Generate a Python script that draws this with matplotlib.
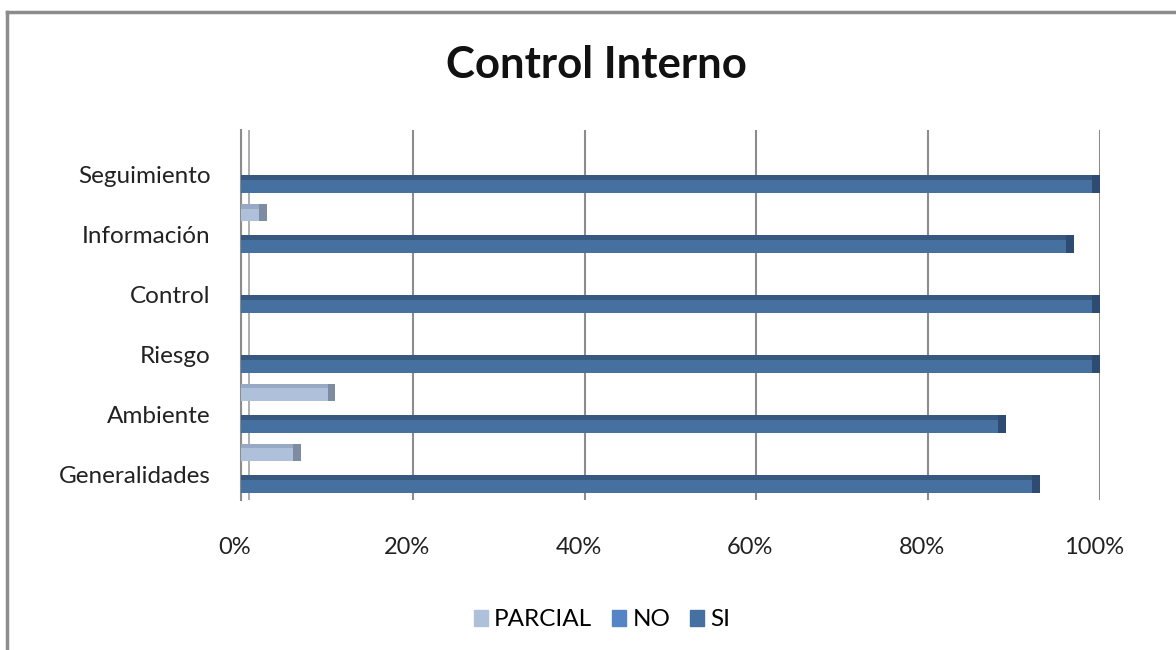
import numpy as np
import matplotlib
matplotlib.use("Agg")
import matplotlib.pyplot as plt
import matplotlib.transforms as mtransforms
from matplotlib.lines import Line2D
from matplotlib.patches import Patch

plt.rcParams['font.family'] = ['Lato', 'DejaVu Sans']

# data (percent)
categories = ['Generalidades', 'Ambiente', 'Riesgo', 'Control', 'Información', 'Seguimiento']
parcial = [7, 11, 0, 0, 3, 0]
no = [0, 0, 0, 0, 0, 0]
si = [93, 89, 100, 100, 97, 100]
xticks = [0, 20, 40, 60, 80, 100]

c_parcial = '#AFC0DA'
c_no = '#5585C5'
c_si = '#46709F'

fig = plt.figure(figsize=(11.76, 6.5), dpi=100)
ax = fig.add_axes([241/1176, 1 - 500/650, (1100-241)/1176, (500-130)/650])

y = np.arange(len(categories))
h = 0.31
cap = 0.9

# main bars
ax.barh(y - 0.15, si, height=h, color=c_si, zorder=3)
ax.barh(y + 0.11, no, height=h, color=c_no, zorder=3)
ax.barh(y + 0.37, parcial, height=0.28, color=c_parcial, zorder=3)

# darker top faces and end caps for a bit of 3D look
ax.barh(y - 0.15 + h/2 - 0.045, si, height=0.09, color='#37597F', zorder=4)
ax.barh(y - 0.15, [cap if v > 0 else 0 for v in si], left=[v - cap for v in si],
        height=h, color='#2E4C72', zorder=5)
ax.barh(y + 0.37 + 0.14 - 0.035, parcial, height=0.07, color='#97A9C4', zorder=4)
ax.barh(y + 0.37, [cap if v > 0 else 0 for v in parcial], left=[v - cap for v in parcial],
        height=0.28, color='#7D8CA3', zorder=5)

ax.set_xlim(0, 100)
ax.set_ylim(-0.42, 5.75)
ax.set_yticks(y)
ax.set_yticklabels(categories, fontsize=17.5, color='#222222')
ax.set_xticks(xticks)
ax.set_xticklabels([f'{v}%' for v in xticks], fontsize=17, color='#222222')
ax.tick_params(length=0)
ax.tick_params(axis='y', pad=22)
ax.tick_params(axis='x', pad=27)

# front-plane labels sit a little left of the back gridlines
for lab in ax.get_xticklabels():
    lab.set_transform(lab.get_transform() + mtransforms.ScaledTranslation(-6/100, 0, fig.dpi_scale_trans))

for s in ['top', 'right', 'bottom']:
    ax.spines[s].set_visible(False)
ax.spines['left'].set_color('#8C8C8C')
ax.spines['left'].set_linewidth(1.5)

ax.grid(axis='x', color='#8C8C8C', linewidth=1.5, zorder=0)
ax.set_axisbelow(True)

# left wall line
ax.axvline(0.9, color='#A0A0A0', linewidth=1.2, zorder=1)

fig.text(596/1176, 1 - 65/650, 'Control Interno', ha='center', va='center',
         fontsize=31.5, fontweight='bold', color='#111111')

handles = [Patch(color=c_parcial), Patch(color=c_no), Patch(color=c_si)]
fig.legend(handles, ['PARCIAL', 'NO', 'SI'], loc='center', bbox_to_anchor=(602/1176, 1 - 620/650),
           ncol=3, frameon=False, fontsize=17.5, handlelength=0.6, handleheight=0.6,
           handletextpad=0.25, columnspacing=0.8)

# chart border
fig.add_artist(Line2D([7/1176, 7/1176], [0, 1 - 12/650], color='#8C8C8C', linewidth=2.5))
fig.add_artist(Line2D([7/1176, 1], [1 - 12/650, 1 - 12/650], color='#8C8C8C', linewidth=2.5))

fig.savefig('out.png', dpi=100)
